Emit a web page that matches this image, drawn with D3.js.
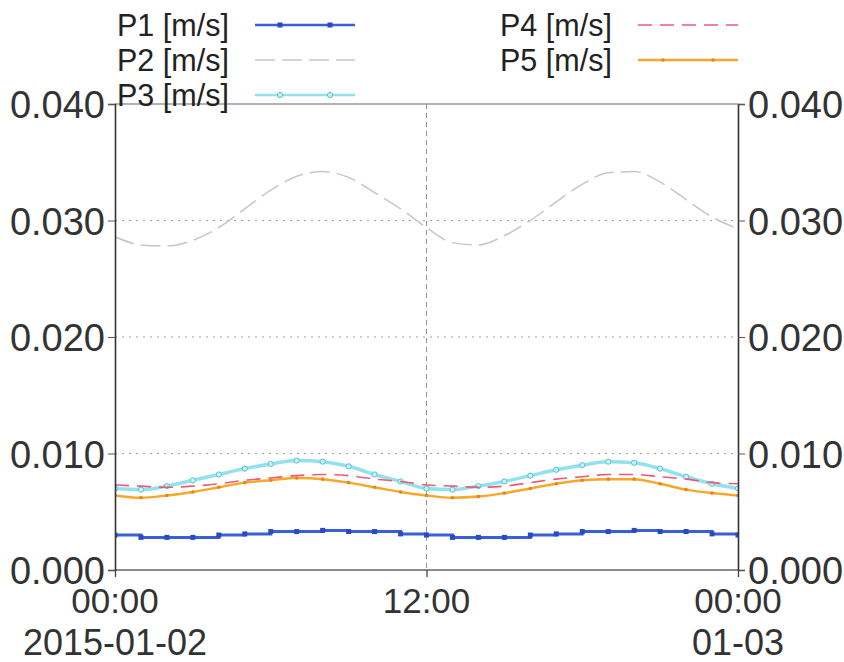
<!DOCTYPE html>
<html>
<head>
<meta charset="utf-8">
<script src="https://cdn.jsdelivr.net/npm/d3@7"></script>
<style>
body{margin:0;background:#fff;}
svg{display:block;font-family:"Liberation Sans",Arial,sans-serif;}
</style>
</head>
<body>
<svg id="chart" width="844" height="662"></svg>
<script>
// hourly samples, 2015-01-02 00:00 .. 2015-01-03 00:00
var hours = [0,1,2,3,4,5,6,7,8,9,10,11,12,13,14,15,16,17,18,19,20,21,22,23,24];

var p1 = [0.0030,0.0028,0.0028,0.0028,0.0030,0.0031,0.0033,0.0033,0.0034,0.0033,0.0033,0.0031,0.0030,
          0.0028,0.0028,0.0028,0.0030,0.0031,0.0033,0.0033,0.0034,0.0033,0.0033,0.0031,0.0030];
var p2 = [0.0286,0.0279,0.0278,0.0283,0.0294,0.0310,0.0326,0.0338,0.0342,0.0337,0.0324,0.0310,0.0294,
          0.0281,0.0279,0.0287,0.0300,0.0316,0.0331,0.0341,0.0342,0.0333,0.0318,0.0303,0.0293];
var p3 = [0.0070,0.0069,0.0072,0.0077,0.0082,0.0087,0.0091,0.0094,0.0093,0.0089,0.0082,0.0076,0.0070,
          0.0069,0.0072,0.0076,0.0081,0.0086,0.0090,0.0093,0.0092,0.0087,0.0080,0.0074,0.0070];
var p4 = [0.0073,0.0072,0.0071,0.0072,0.0074,0.0077,0.0079,0.0081,0.0082,0.0081,0.0078,0.0076,0.0073,
          0.0072,0.0071,0.0072,0.0075,0.0078,0.0080,0.0082,0.0082,0.0080,0.0078,0.0075,0.0074];
var p5 = [0.0064,0.0062,0.0064,0.0067,0.0071,0.0075,0.0077,0.0079,0.0078,0.0075,0.0071,0.0067,0.0064,
          0.0062,0.0063,0.0066,0.0070,0.0074,0.0077,0.0078,0.0078,0.0074,0.0069,0.0066,0.0064];

var seriesNames = ['P1 [m/s]','P2 [m/s]','P3 [m/s]','P4 [m/s]','P5 [m/s]'];
var yTicks = [0, 0.010, 0.020, 0.030, 0.040];
var xTickHours = [0, 12, 24];
var xTickTime = ['00:00','12:00','00:00'];
var xTickDate = ['2015-01-02','','01-03'];

(function(){
    var svg = d3.select('#chart');
    var L = 115, R = 738, T = 104, B = 570;
    var t0 = new Date(2015, 0, 2, 0, 0);
    function toTime(h){ return d3.timeHour.offset(t0, h); }

    var x = d3.scaleTime().domain([toTime(0), toTime(24)]).range([L, R]);
    var y = d3.scaleLinear().domain([0, 0.04]).range([B, T]);

    var styles = [
        {color:'#3a5fd6', width:3,   dash:null,   curve:d3.curveStepAfter,  marker:'square', mcol:'#2a4bc0'},
        {color:'#c6c6c6', width:1.5, dash:'20,7', curve:d3.curveMonotoneX,  marker:null},
        {color:'#93e1ec', width:3.5, dash:null,   curve:d3.curveMonotoneX,  marker:'circle', mcol:'#52c3d6'},
        {color:'#ec5a78', width:1.6, dash:'14,8', curve:d3.curveMonotoneX,  marker:null},
        {color:'#f7a82a', width:2.5, dash:null,   curve:d3.curveMonotoneX,  marker:'dot', mcol:'#e8851a'}
    ];
    var allSeries = [p1, p2, p3, p4, p5];

    // grid
    var grid = svg.append('g');
    grid.selectAll('line.h').data(yTicks.slice(1, 4)).enter().append('line')
        .attr('x1', L).attr('x2', R)
        .attr('y1', function(d){ return y(d); }).attr('y2', function(d){ return y(d); })
        .style('stroke', '#9aa2ad').style('stroke-width', 1.2).style('stroke-dasharray', '2,5');
    grid.append('line')
        .attr('x1', x(toTime(12))).attr('x2', x(toTime(12)))
        .attr('y1', T).attr('y2', B)
        .style('stroke', '#8a93a0').style('stroke-width', 1).style('stroke-dasharray', '5,4');

    // series
    svg.append('clipPath').attr('id', 'clip').append('rect')
        .attr('x', L).attr('y', T).attr('width', R - L).attr('height', B - T);
    var plot = svg.append('g').attr('clip-path', 'url(#clip)');

    allSeries.forEach(function(vals, i){
        var st = styles[i];
        var pts = hours.map(function(h, j){ return {t: toTime(h), v: vals[j]}; });
        var line = d3.line()
            .curve(st.curve)
            .x(function(d){ return x(d.t); })
            .y(function(d){ return y(d.v); });
        plot.append('path')
            .datum(pts)
            .attr('d', line)
            .style('fill', 'none')
            .style('stroke', st.color)
            .style('stroke-width', st.width)
            .style('stroke-dasharray', st.dash);
        drawMarkers(plot, pts, st);
    });

    function drawMarkers(g, pts, st){
        if(!st.marker) return;
        var sel = g.selectAll(null).data(pts).enter();
        if(st.marker == 'square'){
            sel.append('rect')
                .attr('x', function(d){ return x(d.t) - 2.5; })
                .attr('y', function(d){ return y(d.v) - 2.5; })
                .attr('width', 5).attr('height', 5)
                .style('fill', st.mcol);
        } else if(st.marker == 'circle'){
            sel.append('circle')
                .attr('cx', function(d){ return x(d.t); })
                .attr('cy', function(d){ return y(d.v); })
                .attr('r', 2.6)
                .style('fill', '#c8f2f7').style('stroke', st.mcol).style('stroke-width', 1);
        } else {
            sel.append('circle')
                .attr('cx', function(d){ return x(d.t); })
                .attr('cy', function(d){ return y(d.v); })
                .attr('r', 1.8)
                .style('fill', st.mcol);
        }
    }

    // frame
    svg.append('line').attr('x1', L).attr('x2', R).attr('y1', T).attr('y2', T)
        .style('stroke', '#9a9a9a').style('stroke-width', 1.5);
    svg.append('line').attr('x1', L).attr('x2', R).attr('y1', B).attr('y2', B)
        .style('stroke', '#8c8c8c').style('stroke-width', 2.2);

    // y axes, left and right, with minor ticks
    var minorY = d3.range(0, 0.04001, 0.0005);
    function yAxis(axisFn, xpos){
        var g = svg.append('g').attr('transform', 'translate(' + xpos + ',0)');
        g.call(axisFn(y).tickValues(minorY).tickSize(4).tickFormat(''));
        g.call(axisFn(y).tickValues(yTicks).tickSize(7).tickPadding(3)
            .tickFormat(d3.format('.3f')));
        g.selectAll('.domain').style('stroke', '#333').style('stroke-width', 1.6);
        g.selectAll('.tick line').style('stroke', '#555').style('stroke-width', 1);
        g.selectAll('.tick text').style('font-size', '38px').style('fill', '#333')
            .attr('dy', '0.36em');
        return g;
    }
    yAxis(d3.axisLeft, L);
    yAxis(d3.axisRight, R);

    // x axis: minor ticks every 72 minutes
    var minorX = d3.range(0, 24.01, 1.2).map(toTime);
    var gx = svg.append('g').attr('transform', 'translate(0,' + B + ')');
    gx.call(d3.axisBottom(x).tickValues(minorX).tickSize(5).tickFormat(''));
    gx.call(d3.axisBottom(x).tickValues(xTickHours.map(toTime)).tickSize(7).tickFormat(''));
    gx.selectAll('.domain').remove();
    gx.selectAll('.tick line').style('stroke', '#444').style('stroke-width', 1.3);

    var xl = svg.append('g');
    xl.selectAll('text.time').data(xTickHours).enter().append('text')
        .attr('x', function(d){ return x(toTime(d)); })
        .attr('y', 613)
        .attr('text-anchor', 'middle')
        .style('font-size', '35px').style('fill', '#333')
        .text(function(d, i){ return xTickTime[i]; });
    xl.selectAll('text.date').data(xTickHours).enter().append('text')
        .attr('x', function(d){ return x(toTime(d)); })
        .attr('y', 655)
        .attr('text-anchor', 'middle')
        .style('font-size', '36px').style('fill', '#333')
        .text(function(d, i){ return xTickDate[i]; });

    // legend, two columns
    var legendPos = [[117, 36], [117, 71], [117, 106], [500, 36], [500, 71]];
    seriesNames.forEach(function(name, i){
        var st = styles[i];
        var lx = legendPos[i][0], ly = legendPos[i][1];
        var g = svg.append('g');
        g.append('text').attr('x', lx).attr('y', ly)
            .style('font-size', '30.5px').style('fill', '#222').text(name);
        var sx = lx + 138, sy = ly - 11;
        g.append('line').attr('x1', sx).attr('x2', sx + 100).attr('y1', sy).attr('y2', sy)
            .style('stroke', st.color).style('stroke-width', Math.min(st.width, 2.5))
            .style('stroke-dasharray', st.dash);
        var mpts = [{t: x.invert(sx + 25), v: y.invert(sy)}, {t: x.invert(sx + 75), v: y.invert(sy)}];
        drawMarkers(g, mpts, st);
    });
})();
</script>
</body>
</html>
